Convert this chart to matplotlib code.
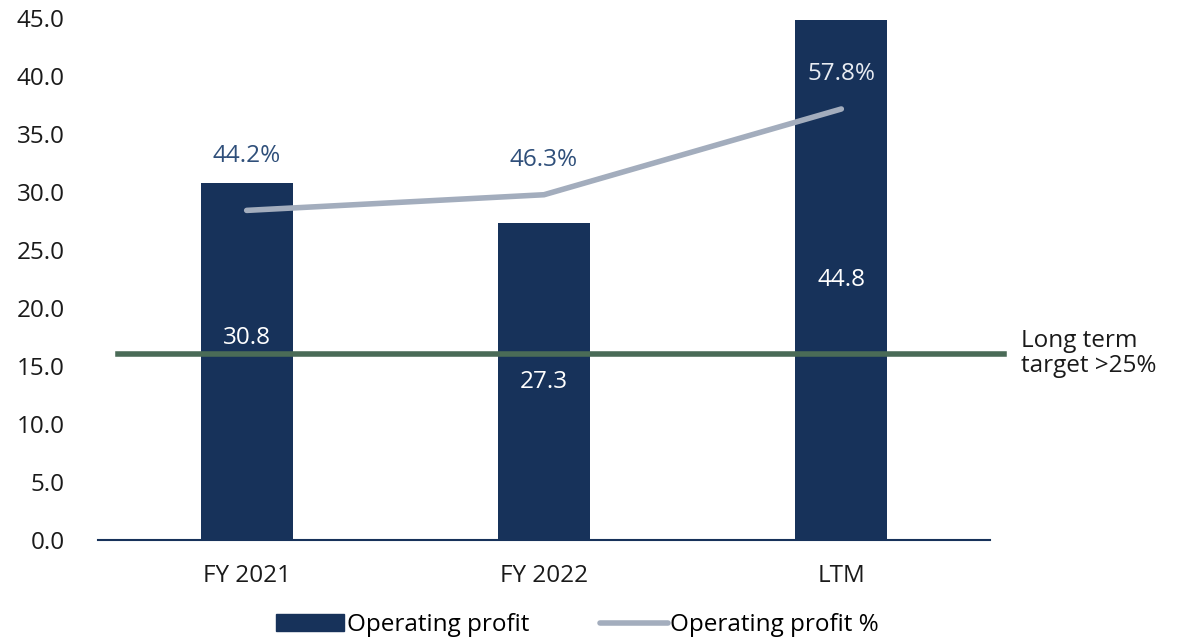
import matplotlib.pyplot as plt
import numpy as np
from matplotlib.lines import Line2D
from matplotlib.patches import Patch

plt.rcParams['font.family'] = ['Open Sans', 'DejaVu Sans']
plt.rcParams['font.weight'] = 'normal'

categories = ["FY 2021", "FY 2022", "LTM"]
op_profit = [30.8, 27.3, 44.8]
op_profit_pct = [44.2, 46.3, 57.8]
target_pct = 25
yticks = np.arange(0, 46, 5)

navy = "#17325A"
grey = "#A3ADBD"
green = "#4A6B57"
pct_cols = ["#2F4F7A", "#2F4F7A", "#E8ECF2"]
txt = "#1A1A1A"
fs = 17.5

fig = plt.figure(figsize=(11.91, 6.40), dpi=100)
ax = fig.add_axes([98/1191, 100/640, 892/1191, 522/640])
x = np.arange(len(categories))
ax.bar(x, op_profit, width=0.31, color=navy, zorder=2)
ax.set_xlim(-0.5, 2.5)
ax.set_ylim(0, 45)
ax.set_yticks(yticks)
ax.set_yticklabels([f"{v:.1f}" for v in yticks])
ax.set_xticks(x)
ax.set_xticklabels(categories)
ax.tick_params(axis='both', length=0, labelsize=fs, colors=txt)
ax.tick_params(axis='y', pad=24)
ax.tick_params(axis='x', pad=17)
for s in ['top', 'right', 'left']:
    ax.spines[s].set_visible(False)
ax.spines['bottom'].set_color(navy)
ax.spines['bottom'].set_linewidth(1.5)

# bar value labels (middle of bar, first one nudged up)
nudge = [2.0, 0, 0]
for i, v in enumerate(op_profit):
    ax.text(i, v/2 + nudge[i], f"{v:.1f}", color="white", ha='center', va='center',
            fontsize=fs, zorder=5)

# secondary axis for percentages
ax2 = ax.twinx()
ax2.set_ylim(0, 70)
ax2.axis('off')
ax2.plot(x, op_profit_pct, color=grey, lw=4, solid_capstyle='round', zorder=3)
ax2.plot([-0.433, 2.547], [target_pct, target_pct], color=green, lw=4, clip_on=False, zorder=4)
pct_off = [7.3, 4.7, 4.7]
for i, v in enumerate(op_profit_pct):
    ax2.text(i, v + pct_off[i], f"{v:.1f}%", color=pct_cols[i], ha='center', va='center',
             fontsize=fs)
ax2.text(2.605, target_pct, "Long term\ntarget >25%", ha='left', va='center',
         fontsize=fs, color=txt, linespacing=1.1)

handles = [Patch(color=navy), Line2D([0], [0], color=grey, lw=4, solid_capstyle='round')]
fig.legend(handles, ["Operating profit", "Operating profit %"], loc='lower center',
           bbox_to_anchor=(0.485, -0.03), ncol=2, frameon=False, fontsize=17.5,
           handlelength=2.8, handletextpad=0.1, columnspacing=2.9)

fig.savefig("out.png", dpi=100)
